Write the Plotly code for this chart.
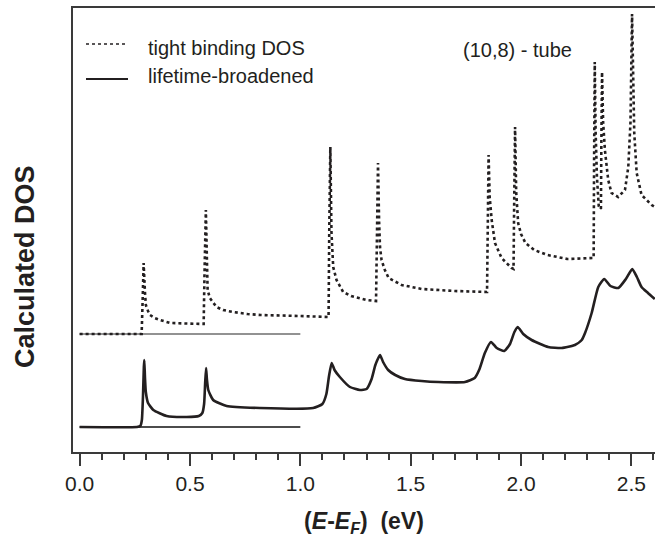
import plotly.graph_objects as go

# ---------------- data (arbitrary DOS units) ----------------
tb_energy = [0.000, 0.281, 0.286, 0.290, 0.296, 0.300, 0.310, 0.319, 0.340, 0.364, 0.410, 0.515, 0.562,
             0.566, 0.572, 0.577, 0.580, 0.590, 0.605, 0.620, 0.650, 0.695, 0.760, 0.820, 1.000, 1.128,
             1.131, 1.136, 1.141, 1.149, 1.164, 1.194, 1.230, 1.262, 1.300, 1.343,
             1.347, 1.352, 1.357, 1.361, 1.368, 1.383, 1.400, 1.459, 1.550, 1.700, 1.846,
             1.849, 1.853, 1.858, 1.867, 1.882, 1.912, 1.957, 1.966,
             1.969, 1.973, 1.978, 1.987, 2.000, 2.020, 2.060, 2.120, 2.210, 2.300, 2.329,
             2.331, 2.334, 2.338, 2.344, 2.352, 2.362,
             2.364, 2.367, 2.372, 2.380, 2.395, 2.410, 2.440, 2.471, 2.486, 2.496, 2.503,
             2.508, 2.513, 2.524, 2.546, 2.592, 2.607]
tb_dos = [11.8, 11.8, 15.5, 18.9, 16.0, 14.7, 14.1, 13.7, 13.4, 13.2, 12.9, 12.8, 12.8,
          18.0, 24.2, 19.0, 16.2, 15.4, 14.9, 14.5, 14.2, 14.0, 13.8, 13.7, 13.6, 13.5,
          22.0, 30.5, 22.0, 18.5, 17.2, 16.0, 15.6, 15.4, 15.2, 15.1,
          22.0, 28.9, 23.0, 20.5, 19.2, 18.2, 17.4, 16.7, 16.3, 16.1, 16.0,
          23.0, 29.7, 25.5, 23.2, 20.9, 19.4, 18.4, 18.3,
          25.0, 32.5, 26.0, 22.9, 21.8, 20.9, 20.2, 19.7, 19.3, 19.4, 19.4,
          29.0, 39.0, 32.0, 27.5, 24.6, 24.3,
          31.0, 38.0, 33.0, 30.2, 27.2, 25.9, 25.5, 26.2, 28.5, 33.0, 43.8,
          37.0, 31.9, 27.9, 25.7, 24.7, 24.5]

lb_energy = [0.000, 0.260, 0.275, 0.282, 0.287, 0.291, 0.293, 0.296, 0.300, 0.310, 0.334, 0.394, 0.485,
             0.540, 0.556, 0.564, 0.569, 0.573, 0.577, 0.583, 0.605, 0.666, 0.817, 1.058,
             1.100, 1.118, 1.130, 1.142, 1.155, 1.179, 1.225, 1.270, 1.300, 1.323, 1.340, 1.361,
             1.375, 1.398, 1.430, 1.474, 1.550, 1.625, 1.746, 1.790, 1.812, 1.836, 1.864,
             1.890, 1.924, 1.950, 1.970, 1.985, 2.010, 2.048, 2.123, 2.184, 2.244, 2.275,
             2.290, 2.320, 2.350, 2.377, 2.405, 2.441, 2.475, 2.504, 2.525, 2.546, 2.575, 2.606]
lb_dos = [2.5, 2.5, 2.6, 3.2, 5.5, 8.5, 9.2, 7.5, 6.0, 4.9, 4.2, 3.6, 3.5,
          3.6, 3.9, 4.8, 7.0, 8.4, 7.2, 6.2, 5.2, 4.6, 4.4, 4.4,
          4.8, 5.8, 7.6, 8.9, 8.2, 7.5, 6.5, 6.2, 6.3, 7.3, 8.7, 9.7,
          9.0, 8.2, 7.7, 7.3, 7.1, 7.0, 7.0, 7.4, 8.3, 9.9, 11.0,
          10.4, 10.1, 10.8, 12.0, 12.5, 11.8, 11.2, 10.5, 10.4, 10.7, 11.2,
          11.9, 13.9, 16.5, 17.3, 16.6, 16.4, 17.3, 18.3, 17.5, 16.5, 15.9, 15.3]

baseline_energy = [0.0, 1.0]
tb_baseline = [11.8, 11.8]
lb_baseline = [2.5, 2.5]

x_tickvals = [0.0, 0.5, 1.0, 1.5, 2.0, 2.5]
x_ticktext = ["0.0", "0.5", "1.0", "1.5", "2.0", "2.5"]

series_names = ["tight binding DOS", "lifetime-broadened"]
tube_label = "(10,8) - tube"
y_title = "<b>Calculated DOS</b>"
x_title = "<b>(<i>E</i>-<i>E</i><sub><i>F</i></sub>)  (eV)</b>"

# ---------------- figure ----------------
W, H = 655, 540
ML, MR, MT, MB = 73, 0, 8, 88
INK = "#231f20"
FONT = "Liberation Sans, Arial, Helvetica, sans-serif"

fig = go.Figure()

fig.add_trace(go.Scatter(x=baseline_energy, y=tb_baseline, mode="lines",
                         line=dict(color="#6e6e6e", width=1.3), showlegend=False, hoverinfo="skip"))
fig.add_trace(go.Scatter(x=baseline_energy, y=lb_baseline, mode="lines",
                         line=dict(color="#111111", width=1.3), showlegend=False, hoverinfo="skip"))

fig.add_trace(go.Scatter(x=tb_energy, y=tb_dos, mode="lines", name=series_names[0],
                         line=dict(color=INK, width=2.6, dash="dot"), showlegend=False))
fig.add_trace(go.Scatter(x=lb_energy, y=lb_dos, mode="lines", name=series_names[1],
                         line=dict(color=INK, width=2.6, shape="spline", smoothing=0.5),
                         showlegend=False))

def px_to_paper_x(px):
    return (px - ML) / (W - ML - MR)

def py_to_paper_y(py):
    return (H - MB - py) / (H - MB - MT)

# manual legend
fig.add_shape(type="line", xref="paper", yref="paper",
              x0=px_to_paper_x(86), x1=px_to_paper_x(128),
              y0=py_to_paper_y(44), y1=py_to_paper_y(44),
              line=dict(color=INK, width=1.6, dash="dot"))
fig.add_shape(type="line", xref="paper", yref="paper",
              x0=px_to_paper_x(86), x1=px_to_paper_x(128),
              y0=py_to_paper_y(79), y1=py_to_paper_y(79),
              line=dict(color=INK, width=2.2))
fig.add_annotation(xref="paper", yref="paper", x=px_to_paper_x(146), y=py_to_paper_y(48),
                   text=series_names[0], showarrow=False, xanchor="left", yanchor="middle",
                   font=dict(size=20, color=INK, family=FONT))
fig.add_annotation(xref="paper", yref="paper", x=px_to_paper_x(146), y=py_to_paper_y(76),
                   text=series_names[1], showarrow=False, xanchor="left", yanchor="middle",
                   font=dict(size=20, color=INK, family=FONT))
fig.add_annotation(xref="paper", yref="paper", x=px_to_paper_x(461), y=py_to_paper_y(50),
                   text=tube_label, showarrow=False, xanchor="left", yanchor="middle",
                   font=dict(size=20, color=INK, family=FONT))

# y-axis title (placed as in the reference, slightly below centre)
fig.add_annotation(xref="paper", yref="paper", x=px_to_paper_x(25), y=py_to_paper_y(267),
                   text=y_title, showarrow=False, textangle=-90,
                   xanchor="center", yanchor="middle",
                   font=dict(size=27, color=INK, family=FONT))

fig.update_layout(
    width=W, height=H,
    margin=dict(l=ML, r=MR, t=MT, b=MB, autoexpand=False),
    paper_bgcolor="white", plot_bgcolor="white",
    font=dict(family=FONT, color=INK),
    showlegend=False,
)

fig.update_xaxes(
    range=[-0.030, 2.607], showgrid=False, zeroline=False,
    showline=True, linecolor="#3a3a3a", linewidth=2, mirror=True,
    tickmode="array", tickvals=x_tickvals, ticktext=x_ticktext,
    ticks="outside", ticklen=12, tickwidth=1.5, tickcolor="#3a3a3a",
    minor=dict(dtick=0.1, tick0=0, ticks="outside", ticklen=6, tickwidth=1.5, tickcolor="#3a3a3a"),
    tickfont=dict(size=21, color=INK, family=FONT),
    title=dict(text=x_title, font=dict(size=23, color=INK, family=FONT), standoff=19),
)
fig.update_yaxes(
    range=[0, 44.4], showgrid=False, zeroline=False,
    showline=True, linecolor="#3a3a3a", linewidth=2, mirror=False,
    showticklabels=False, ticks="",
)

fig.write_html("out.html")
